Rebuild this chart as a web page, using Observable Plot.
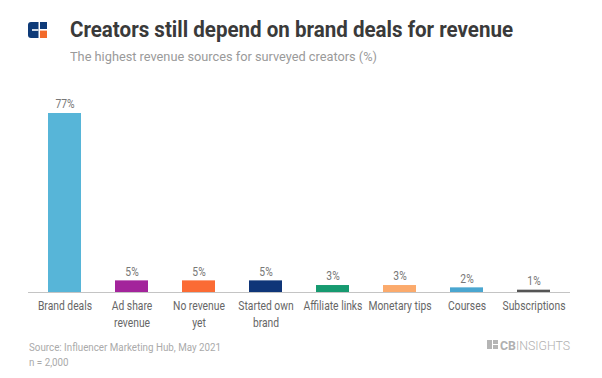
<!DOCTYPE html>
<html>
<head>
<meta charset="utf-8">
<script src="https://cdn.jsdelivr.net/npm/d3@7"></script>
<script src="https://cdn.jsdelivr.net/npm/@observablehq/plot@0.6"></script>
<style>
  html, body { margin: 0; padding: 0; background: #fff; }
  #wrap { position: relative; width: 602px; height: 378px; overflow: hidden; font-family: Roboto, "Noto Sans", sans-serif; }
  #logo { position: absolute; left: 28px; top: 22px; }
  #title { position: absolute; left: 70px; top: 17px; font-size: 22px; font-weight: 700; color: #3a3a3a; white-space: nowrap; transform-origin: left top; }
  #subtitle { position: absolute; left: 70px; top: 48px; font-size: 13.5px; color: #9a9a9a; white-space: nowrap; transform-origin: left top; }
  #chart { position: absolute; left: 0; top: 80px; }
  #source { position: absolute; left: 29px; top: 340px; font-size: 10px; color: #aaa; line-height: 15px; white-space: nowrap; transform-origin: left top; }
  #cbi { position: absolute; left: 486px; top: 338px; }
</style>
</head>
<body>
<div id="wrap">
  <svg id="logo" width="19" height="16" viewBox="0 0 19 16">
    <path d="M3,0 H10.5 V16 H3 A3,3 0 0 1 0,13 V3 A3,3 0 0 1 3,0 Z" fill="#0e3a78"/>
    <rect x="4" y="7.2" width="6.5" height="1.6" fill="#fff"/>
    <rect x="12" y="0" width="7" height="7" fill="#0e3a78"/>
    <rect x="12" y="8.6" width="7" height="7.4" fill="#f26a2b"/>
  </svg>
  <div id="title">Creators still depend on brand deals for revenue</div>
  <div id="subtitle">The highest revenue sources for surveyed creators (%)</div>
  <div id="chart"></div>
  <div id="source">Source: Influencer Marketing Hub, May 2021<br>n = 2,000</div>
  <svg id="cbi" width="86" height="14" viewBox="0 0 86 14">
    <rect x="1" y="2" width="5" height="9" fill="#b5b5b5"/>
    <rect x="7" y="2" width="5" height="4" fill="#b5b5b5"/>
    <rect x="7" y="7" width="5" height="4" fill="#b5b5b5"/>
    <text x="14" y="11.5" font-family="Roboto, sans-serif" font-size="12.5" fill="#b0b0b0" textLength="70" lengthAdjust="spacingAndGlyphs"><tspan font-weight="700">CB</tspan><tspan font-weight="300">INSIGHTS</tspan></text>
  </svg>
</div>
<script>
const categories = ["Brand deals", "Ad share revenue", "No revenue yet", "Started own brand", "Affiliate links", "Monetary tips", "Courses", "Subscriptions"];
const tickLabels = ["Brand deals", "Ad share\nrevenue", "No revenue\nyet", "Started own\nbrand", "Affiliate links", "Monetary tips", "Courses", "Subscriptions"];
const values = [77, 5, 5, 5, 3, 3, 2, 1];
const colors = ["#57b5d8", "#a3249b", "#fb6b34", "#0f3578", "#169a70", "#fbaa6c", "#4aa6d0", "#555555"];

const data = categories.map((c, i) => ({category: c, value: values[i], color: colors[i], label: values[i] + "%"}));
const tickMap = new Map(categories.map((c, i) => [c, tickLabels[i]]));

const chart = Plot.plot({
  width: 602,
  height: 255,
  marginLeft: 28,
  marginRight: 32,
  marginTop: 33,
  marginBottom: 43,
  style: {fontFamily: "Roboto, sans-serif", fontSize: "12px", color: "#666", background: "transparent"},
  x: {domain: categories, paddingInner: 0.51, paddingOuter: 0.25, label: null},
  y: {domain: [0, 77], axis: null},
  marks: [
    Plot.barY(data, {x: "category", y: "value", fill: "color"}),
    Plot.ruleY([0], {stroke: "#c4c4c4", strokeWidth: 1}),
    Plot.text(data, {x: "category", y: "value", text: "label", dy: -9, fill: "#777", fontSize: 12, className: "vlabel"}),
    Plot.axisX({tickSize: 0, tickPadding: 5, tickFormat: d => tickMap.get(d), fill: "#666", fontSize: 12, lineHeight: 1.45, label: null, className: "xtick"})
  ]
});
document.getElementById("chart").appendChild(chart);

// condensed look: squeeze glyphs horizontally around their anchor
chart.querySelectorAll(".xtick text, .vlabel text").forEach(t => {
  const tr = t.getAttribute("transform") || "";
  t.setAttribute("transform", tr + " scale(0.86,1)");
});

function fit(id, target) {
  const el = document.getElementById(id);
  const w = el.getBoundingClientRect().width;
  if (w > 0) el.style.transform = `scaleX(${target / w})`;
}
fit("title", 443);
fit("subtitle", 307);
fit("source", 192);
</script>
</body>
</html>
